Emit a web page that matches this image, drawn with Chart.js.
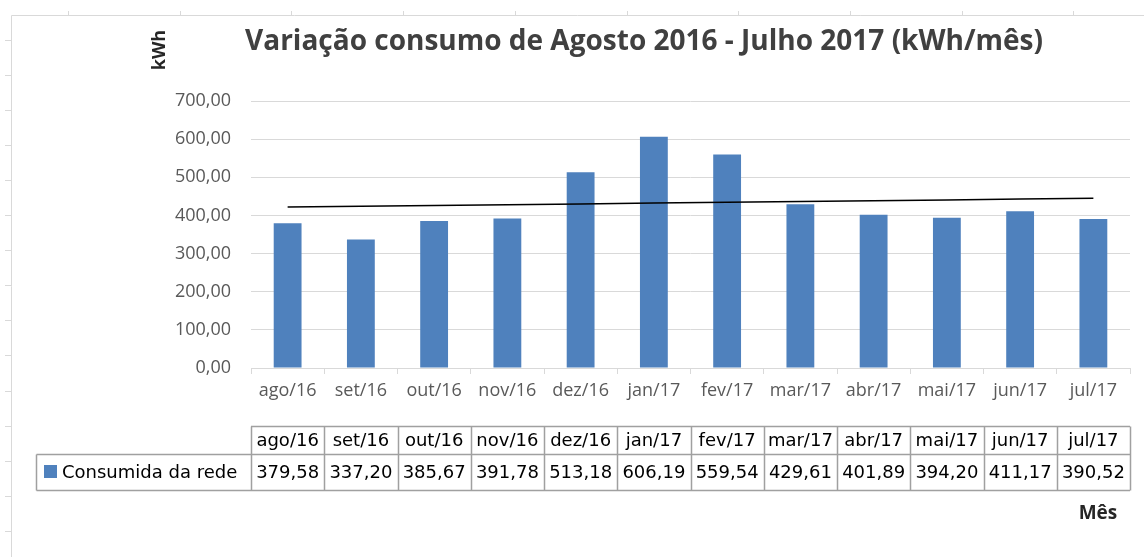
<!DOCTYPE html>
<html>
<head>
<meta charset="utf-8">
<script src="https://cdn.jsdelivr.net/npm/chart.js@4/dist/chart.umd.min.js"></script>
<style>
  html, body { margin: 0; padding: 0; background: #fff; }
  #wrap { width: 1144px; height: 557px; }
</style>
</head>
<body>
<div id="wrap"><canvas id="consumoChart" width="1144" height="557"></canvas></div>
<script>
const months = ["ago/16", "set/16", "out/16", "nov/16", "dez/16", "jan/17",
  "fev/17", "mar/17", "abr/17", "mai/17", "jun/17", "jul/17"];
const consumo = [379.58, 337.20, 385.67, 391.78, 513.18, 606.19,
  559.54, 429.61, 401.89, 394.20, 411.17, 390.52];
const seriesName = "Consumida da rede";
const titleText = "Variação consumo de Agosto 2016 - Julho 2017 (kWh/mês)";
const yTitle = "kWh";
const xTitle = "Mês";

const FONT = "'Open Sans', 'DejaVu Sans', sans-serif";
const TABLE_FONT = "'DejaVu Sans', sans-serif";
const BLUE = "#4f81bd";

function fmt(v) {
  return v.toFixed(2).replace(".", ",");
}

// linear trendline (least squares), like Excel's
function trend(values) {
  const n = values.length;
  let sx = 0, sy = 0, sxy = 0, sxx = 0;
  values.forEach((y, i) => {
    const x = i + 1;
    sx += x; sy += y; sxy += x * y; sxx += x * x;
  });
  const b = (n * sxy - sx * sy) / (n * sxx - sx * sx);
  const a = (sy - b * sx) / n;
  return values.map((_, i) => a + b * (i + 1));
}

const extras = {
  id: "extras",
  afterDraw(chart) {
    const ctx = chart.ctx;
    const x = chart.scales.x;
    ctx.save();

    // sheet frame
    ctx.strokeStyle = "#d9d9d9";
    ctx.lineWidth = 1;
    ctx.beginPath();
    ctx.moveTo(11.5, 557); ctx.lineTo(11.5, 15.5); ctx.lineTo(1144, 15.5);
    for (let yy = 39.5; yy < 557; yy += 35.1) { ctx.moveTo(5, Math.round(yy) + 0.5); ctx.lineTo(11, Math.round(yy) + 0.5); }
    for (let xx = 68; xx < 1144; xx += 111.7) { ctx.moveTo(Math.round(xx) + 0.5, 11); ctx.lineTo(Math.round(xx) + 0.5, 15); }
    ctx.stroke();

    // title
    ctx.fillStyle = "#404040";
    ctx.font = "bold 28px " + FONT;
    ctx.textAlign = "center";
    ctx.textBaseline = "middle";
    ctx.fillText(titleText, 644, 42);

    // axis titles
    ctx.fillStyle = "#262626";
    ctx.font = "bold 18px " + FONT;
    ctx.save();
    ctx.translate(160, 50);
    ctx.rotate(-Math.PI / 2);
    ctx.fillText(yTitle, 0, 0);
    ctx.restore();
    ctx.font = "bold 19px " + FONT;
    ctx.fillText(xTitle, 1098, 514);

    // data table
    const half = (x.getPixelForValue(1) - x.getPixelForValue(0)) / 2;
    const left = x.getPixelForValue(0) - half;
    const right = x.getPixelForValue(months.length - 1) + half;
    const r0 = 426.5, r1 = 454.5, r2 = 490.5, legLeft = 36.5;
    ctx.strokeStyle = "#a0a0a0";
    ctx.lineWidth = 1.5;
    ctx.beginPath();
    ctx.moveTo(left, r0); ctx.lineTo(right, r0);
    ctx.moveTo(legLeft, r1); ctx.lineTo(right, r1);
    ctx.moveTo(legLeft, r2); ctx.lineTo(right, r2);
    ctx.moveTo(legLeft, r1); ctx.lineTo(legLeft, r2);
    for (let i = 0; i <= months.length; i++) {
      const px = Math.round(left + i * 2 * half) + 0.5;
      ctx.moveTo(px, r0); ctx.lineTo(px, r2);
    }
    ctx.stroke();

    ctx.fillStyle = "#000";
    ctx.font = "18px " + TABLE_FONT;
    ctx.textAlign = "center";
    months.forEach((m, i) => {
      const cx = x.getPixelForValue(i);
      ctx.fillText(m, cx, (r0 + r1) / 2 + 1);
      ctx.fillText(fmt(consumo[i]), cx, (r1 + r2) / 2 + 1);
    });
    ctx.fillStyle = BLUE;
    ctx.fillRect(44, 465, 13, 13);
    ctx.fillStyle = "#000";
    ctx.textAlign = "left";
    ctx.fillText(seriesName, 62, (r1 + r2) / 2 + 1);

    ctx.restore();
  }
};

new Chart(document.getElementById("consumoChart"), {
  type: "bar",
  data: {
    labels: months,
    datasets: [
      {
        type: "line",
        label: "Linear (" + seriesName + ")",
        data: trend(consumo),
        borderColor: "#000",
        borderWidth: 1.5,
        pointRadius: 0,
        fill: false,
        order: 0
      },
      {
        label: seriesName,
        data: consumo,
        backgroundColor: BLUE,
        barPercentage: 0.38,
        categoryPercentage: 1,
        order: 1
      }
    ]
  },
  options: {
    responsive: false,
    animation: false,
    layout: { padding: { top: 101, right: 14, bottom: 149, left: 0 } },
    plugins: {
      legend: { display: false },
      title: { display: false },
      tooltip: { enabled: false }
    },
    scales: {
      x: {
        offset: true,
        afterFit: s => { s.height = 40; },
        grid: { offset: true, drawOnChartArea: false, color: "#d9d9d9", tickLength: 6 },
        border: { color: "#d9d9d9" },
        ticks: { color: "#595959", font: { family: FONT, size: 18 }, padding: 6, maxRotation: 0 }
      },
      y: {
        min: 0,
        max: 700,
        afterFit: s => { s.width = 251; },
        grid: { color: "#d9d9d9", drawTicks: false },
        border: { display: false },
        ticks: {
          stepSize: 100,
          color: "#595959",
          padding: 20,
          font: { family: FONT, size: 18 },
          callback: v => fmt(v)
        }
      }
    }
  },
  plugins: [extras]
});
</script>
</body>
</html>
